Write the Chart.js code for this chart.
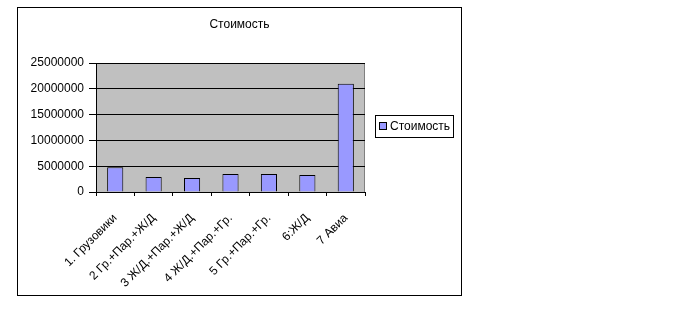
<!DOCTYPE html>
<html>
<head>
<meta charset="utf-8">
<script src="https://cdn.jsdelivr.net/npm/chart.js@4"></script>
<style>
  body { margin: 0; background: #fff; font-family: "Liberation Sans", Arial, sans-serif; }
  #frame { position: absolute; left: 17px; top: 7px; width: 443px; height: 287px; border: 1px solid #000; }
  #frame canvas { display: block; }
  #title { position: absolute; left: 0; top: 8px; width: 443px; text-align: center; font-size: 12px; line-height: 16px; }
  #legend { position: absolute; left: 375px; top: 115px; width: 77px; height: 21px; border: 1px solid #000;
            font-size: 12px; line-height: 21px; white-space: nowrap; }
  #legend span.box { display: inline-block; width: 6px; height: 6px; background: #9999ff; border: 1px solid #000;
                     margin-left: 3px; margin-right: 3px; vertical-align: 0px; }
</style>
</head>
<body>
<div id="frame"><canvas id="barChart" width="443" height="287"></canvas><div id="title">Стоимость</div></div>
<div id="legend"><span class="box"></span>Стоимость</div>
<script>
// categories and values
const categories = ['1. Грузовики', '2 Гр.+Пар.+Ж/Д', '3 Ж/Д.+Пар.+Ж/Д', '4 Ж/Д.+Пар.+Гр.', '5 Гр.+Пар.+Гр.', '6:Ж/Д', '7 Авиа'];
const costs = [4800000, 2900000, 2700000, 3500000, 3500000, 3300000, 21000000];
const seriesName = 'Стоимость';
const yTicks = [0, 5000000, 10000000, 15000000, 20000000, 25000000];

// grey plot background with a thin border, like Excel
const plotBg = {
    id: 'plotBg',
    beforeDraw(chart) {
        const a = chart.chartArea;
        const ctx = chart.ctx;
        ctx.save();
        ctx.fillStyle = '#c0c0c0';
        ctx.fillRect(a.left, a.top, a.right - a.left, a.bottom - a.top);
        ctx.strokeStyle = '#808080';
        ctx.lineWidth = 1;
        ctx.strokeRect(a.left + 0.5, a.top + 0.5, a.right - a.left - 1, a.bottom - a.top);
        ctx.restore();
    }
};

const ctx = document.getElementById('barChart').getContext('2d');
new Chart(ctx, {
    type: 'bar',
    data: {
        labels: categories,
        datasets: [{
            label: seriesName,
            data: costs,
            backgroundColor: '#9999ff',
            borderColor: '#000',
            borderWidth: 1,
            categoryPercentage: 1,
            barPercentage: 0.42
        }]
    },
    options: {
        responsive: false,
        animation: false,
        layout: { padding: { left: 0, right: 96, top: 55, bottom: 0 } },
        plugins: {
            legend: { display: false },
            tooltip: { enabled: false },
            title: { display: false }
        },
        scales: {
            x: {
                afterFit: s => { s.height = 103; },
                grid: { drawOnChartArea: false, drawTicks: true, tickLength: 4, color: '#000', offset: true },
                border: { color: '#000', width: 1 },
                ticks: {
                    color: '#000',
                    font: { family: '"Liberation Sans", Arial', size: 12 },
                    minRotation: 45,
                    maxRotation: 45,
                    autoSkip: false,
                    padding: 15
                }
            },
            y: {
                min: 0,
                max: 25000000,
                afterFit: s => { s.width = 78; },
                afterBuildTicks: s => { s.ticks = yTicks.map(v => ({ value: v })); },
                grid: { color: '#000', tickLength: 7 },
                border: { color: '#000', width: 1 },
                ticks: {
                    color: '#000',
                    font: { family: '"Liberation Sans", Arial', size: 12 },
                    padding: 5,
                    callback: v => String(v)
                }
            }
        }
    },
    plugins: [plotBg]
});
</script>
</body>
</html>
